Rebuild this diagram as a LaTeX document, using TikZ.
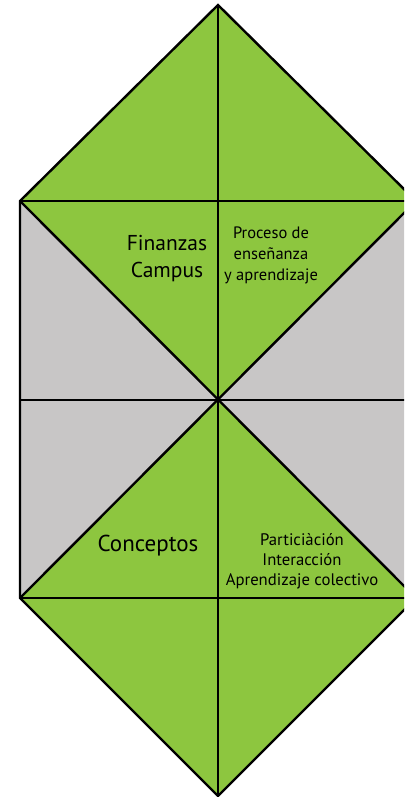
\documentclass[tikz,border=0pt]{standalone}
\usepackage{fontspec}
\setmainfont{PT Sans}
\usetikzlibrary{positioning}

\definecolor{leafgreen}{RGB}{141,198,63}
\definecolor{paleGrey}{RGB}{200,198,198}

\tikzset{
  edge line/.style={line width=2.4pt, line join=miter},
  big label/.style={inner sep=0pt, align=center, font=\fontsize{21.5}{27}\selectfont},
  small label/.style={inner sep=0pt, align=center, font=\fontsize{16.5}{21}\selectfont}
}

\begin{document}
\begin{tikzpicture}[x=1pt, y=-1pt]
          % Fix the frame of the picture first
          \useasboundingbox (0,0) rectangle (404,797);
          \clip (0,0) rectangle (404,797);

          % Main corner points of the figure
          \coordinate (apex_top) at (218,5);
          \coordinate (apex_bottom) at (218,796);
          \coordinate (mid) at (218,400);
          \coordinate (square_nw) at (20,201);
          \coordinate (square_ne) at (416,201);
          \coordinate (square_sw) at (20,598);
          \coordinate (square_se) at (416,598);

          % Filled regions
          \fill [leafgreen] (apex_top) -- (square_ne) -- (mid) -- (square_nw) -- cycle;
          \fill [leafgreen] (apex_bottom) -- (square_se) -- (mid) -- (square_sw) -- cycle;
          \fill [paleGrey] (square_nw) -- (mid) -- (square_sw) -- cycle;
          \fill [paleGrey] (square_ne) -- (mid) -- (square_se) -- cycle;

          % Outline and inner lines
          \draw [edge line] (apex_top) -- (square_ne) -- (square_se) -- (apex_bottom) -- (square_sw) -- (square_nw) -- cycle;
          \draw [edge line] (square_nw) -- (square_ne);
          \draw [edge line] (square_sw) -- (square_se);
          \draw [edge line] (square_nw) -- (square_se);
          \draw [edge line] (square_ne) -- (square_sw);
          \draw [edge line] (apex_top) -- (apex_bottom);
          \draw [edge line] (square_nw |- mid) -- (square_ne |- mid);

          % Labels in the upper triangle
          \node (finanzas) [big label] at (167,259) {Finanzas\\Campus};
          \node (proceso) [small label] at (271,255) {Proceso de\\enseñanza\\y aprendizaje};

          % Labels in the lower triangle
          \node (conceptos) [big label, font=\fontsize{23}{27}\selectfont] at (148,546) {Conceptos};
          \node (participacion) [small label, font=\fontsize{16.7}{20}\selectfont] at (302,561) {Particiàción\\Interacción\\Aprendizaje colectivo};
        \end{tikzpicture}
\end{document}
